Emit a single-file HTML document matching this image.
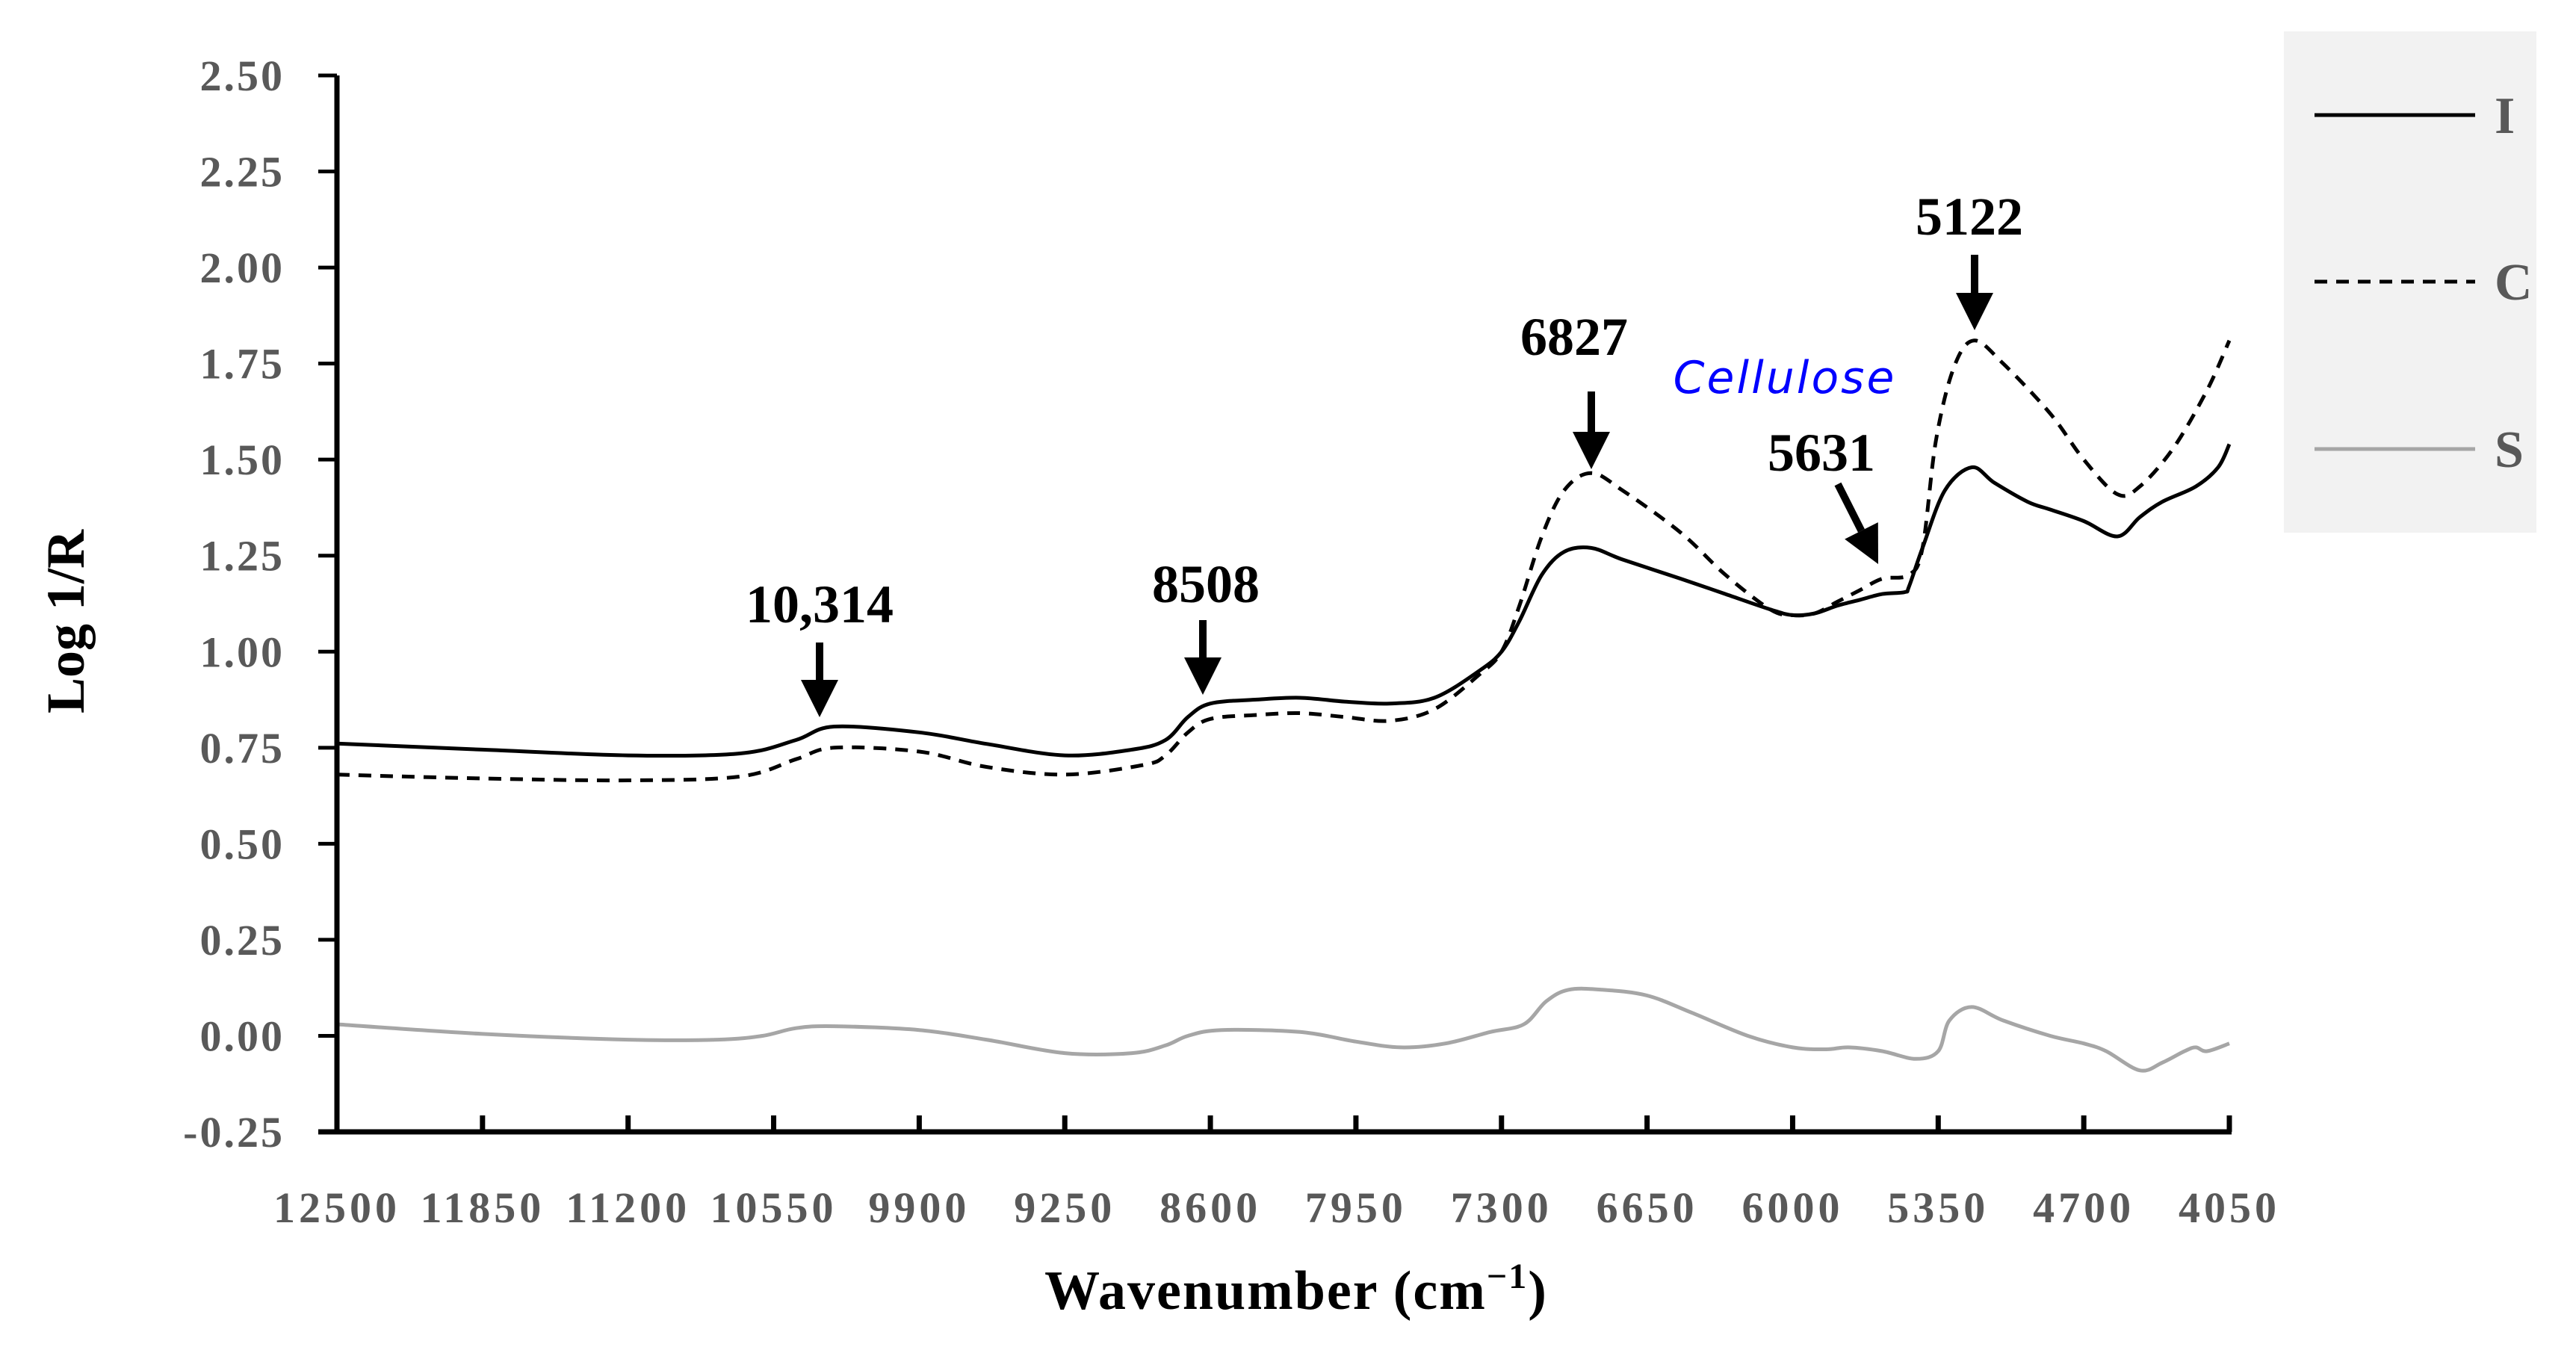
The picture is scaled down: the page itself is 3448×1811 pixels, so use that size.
<!DOCTYPE html>
<html><head><meta charset="utf-8"><style>
html,body{margin:0;padding:0;background:#fff;}
svg{display:block;}
</style></head><body>
<svg id="chart" width="3448" height="1811" viewBox="0 0 3448 1811" xmlns="http://www.w3.org/2000/svg">
<g id="plot"></g>
</svg>
<script>
const xTicks = [12500,11850,11200,10550,9900,9250,8600,7950,7300,6650,6000,5350,4700,4050];
const yTicks = [-0.25,0,0.25,0.5,0.75,1.0,1.25,1.5,1.75,2.0,2.25,2.5];
const wnI = [12500,11850,11200,10700,10450,10280,9900,9600,9250,8950,8800,8700,8600,8400,8200,8000,7800,7600,7400,7300,7220,7120,7020,6900,6760,6500,6300,6100,6000,5900,5800,5700,5600,5500,5480,5420,5320,5200,5100,4950,4850,4700,4550,4450,4350,4200,4100,4050];
const valI = [0.761,0.745,0.73,0.735,0.77,0.805,0.79,0.76,0.73,0.745,0.77,0.83,0.865,0.875,0.88,0.87,0.865,0.88,0.95,1.0,1.08,1.2,1.26,1.27,1.24,1.19,1.15,1.11,1.095,1.1,1.12,1.135,1.15,1.155,1.17,1.27,1.42,1.48,1.44,1.39,1.37,1.34,1.30,1.35,1.39,1.43,1.48,1.54];
const wnC = [12500,11850,11200,10700,10450,10280,9900,9600,9250,8900,8800,8700,8600,8400,8200,8000,7800,7600,7400,7300,7220,7120,7020,6900,6760,6500,6300,6100,6000,5900,5800,5700,5600,5480,5420,5360,5280,5190,5060,4850,4700,4550,4450,4300,4150,4050];
const valC = [0.68,0.67,0.665,0.675,0.72,0.75,0.74,0.70,0.68,0.705,0.73,0.79,0.825,0.835,0.84,0.83,0.82,0.85,0.94,1.0,1.12,1.3,1.42,1.465,1.42,1.31,1.2,1.11,1.095,1.1,1.13,1.16,1.19,1.2,1.27,1.55,1.74,1.81,1.75,1.62,1.5,1.41,1.43,1.53,1.68,1.81];
const wnS = [12500,11850,11200,10800,10600,10450,10280,9900,9600,9250,8950,8800,8700,8550,8200,7950,7750,7550,7350,7200,7100,7000,6850,6650,6450,6200,6000,5850,5750,5600,5450,5350,5300,5200,5060,4850,4700,4600,4450,4350,4250,4200,4150,4050];
const valS = [0.03,0.005,-0.01,-0.01,0.0,0.02,0.025,0.015,-0.01,-0.045,-0.045,-0.025,0.0,0.015,0.01,-0.015,-0.03,-0.02,0.01,0.03,0.09,0.12,0.12,0.105,0.06,0.0,-0.03,-0.035,-0.03,-0.04,-0.06,-0.04,0.04,0.075,0.04,0.0,-0.02,-0.04,-0.09,-0.07,-0.04,-0.03,-0.04,-0.02];
const peakLabels = ["10,314","8508","6827","5631","5122"];
const peakWn = [10314,8508,6827,5631,5122];

const NS="http://www.w3.org/2000/svg";
const X0=451,X1=2984,Y0=1515,Y1=101;
const xs=w=>X0+(12500-w)/(12500-4050)*(X1-X0);
const ys=v=>Y0-(v+0.25)/2.75*(Y0-Y1);
const g=document.getElementById('plot');
function mk(tag,attrs,parent){const e=document.createElementNS(NS,tag);for(const k in attrs)e.setAttribute(k,attrs[k]);(parent||g).appendChild(e);return e;}
function smooth(pts){let d='M'+pts[0][0].toFixed(1)+','+pts[0][1].toFixed(1);
for(let i=0;i<pts.length-1;i++){const p0=pts[i-1]||pts[i],p1=pts[i],p2=pts[i+1],p3=pts[i+2]||p2;
const c1=[p1[0]+(p2[0]-p0[0])/6,p1[1]+(p2[1]-p0[1])/6],c2=[p2[0]-(p3[0]-p1[0])/6,p2[1]-(p3[1]-p1[1])/6];
d+=' C'+c1[0].toFixed(1)+','+c1[1].toFixed(1)+' '+c2[0].toFixed(1)+','+c2[1].toFixed(1)+' '+p2[0].toFixed(1)+','+p2[1].toFixed(1);}
return d;}
const FONT='"Liberation Serif", serif';
let p;
p=mk('path',{d:smooth(wnS.map((w,i)=>[xs(w),ys(valS[i])])),fill:'none',stroke:'#a6a6a6','stroke-width':5});


p=mk('path',{d:smooth(wnC.map((w,i)=>[xs(w),ys(valC[i])])),fill:'none',stroke:'#000','stroke-width':5,'stroke-dasharray':'17 12'});


p=mk('path',{d:smooth(wnI.map((w,i)=>[xs(w),ys(valI[i])])),fill:'none',stroke:'#000','stroke-width':5});


let a=mk('line',{x1:X0,y1:Y1,x2:X0,y2:Y0+3,stroke:'#000','stroke-width':7});


a=mk('line',{x1:X0-25,y1:Y0,x2:X1+3,y2:Y0,stroke:'#000','stroke-width':7});


yTicks.forEach(v=>{
  const t=mk('line',{x1:X0-25,y1:ys(v),x2:X0,y2:ys(v),stroke:'#000','stroke-width':5});
  
  
  const l=mk('text',{x:381,y:ys(v)+20,'text-anchor':'end','font-family':FONT,'font-weight':'bold','font-size':58,fill:'#595959','letter-spacing':3});
  l.textContent=v.toFixed(2);
  
  
});
xTicks.forEach(w=>{
  const t=mk('line',{x1:xs(w),y1:Y0-22,x2:xs(w),y2:Y0,stroke:'#000','stroke-width':7});
  
  
  const l=mk('text',{x:xs(w),y:1636,'text-anchor':'middle','font-family':FONT,'font-weight':'bold','font-size':58,fill:'#595959','letter-spacing':5});
  l.textContent=w;
  
  
});
let tt=mk('text',{x:0,y:0,transform:'translate(112,832) rotate(-90)','text-anchor':'middle','font-family':FONT,'font-weight':'bold','font-size':72,fill:'#000'});
tt.textContent='Log 1/R';


tt=mk('text',{x:1735,y:1752,'text-anchor':'middle','font-family':FONT,'font-weight':'bold','font-size':74,fill:'#000','letter-spacing':2});
tt.innerHTML='Wavenumber (cm<tspan font-size="48" dy="-28">−1</tspan><tspan dy="28">)</tspan>';


const labPos=[[1097,833],[1614,806],[2107,475],[2438,630],[2636,314]];
peakLabels.forEach((s,i)=>{
  const l=mk('text',{x:labPos[i][0],y:labPos[i][1],'text-anchor':'middle','font-family':FONT,'font-weight':'bold','font-size':72,fill:'#000'});
  l.textContent=s;
  
  
});
function arrow(x1,y1,x2,y2,name){
  const gg=mk('g',{});
  
  
  const ang=Math.atan2(y2-y1,x2-x1),L=50,W=25;
  const bx=x2-L*Math.cos(ang),by=y2-L*Math.sin(ang);
  mk('line',{x1:x1,y1:y1,x2:bx,y2:by,stroke:'#000','stroke-width':10},gg);
  const px=-Math.sin(ang)*W,py=Math.cos(ang)*W;
  mk('polygon',{points:`${x2},${y2} ${bx+px},${by+py} ${bx-px},${by-py}`,fill:'#000'},gg);
}
arrow(1097,860,1097,960,'arrow-10314');
arrow(1610,830,1610,930,'arrow-8508');
arrow(2130,524,2130,628,'arrow-6827');
arrow(2460,648,2514,755,'arrow-5631');
arrow(2643,341,2643,442,'arrow-5122');
tt=mk('text',{x:2389,y:526,'text-anchor':'middle','font-family':'"DejaVu Sans", sans-serif','font-style':'italic','font-size':60,fill:'#0000ff','letter-spacing':3});
tt.textContent='Cellulose';


const lg=mk('g',{});


mk('rect',{x:3057,y:42,width:338,height:671,fill:'#f2f2f2'},lg);
const legNames=['I','C','S'],legY=[154,377,601];
legNames.forEach((n,i)=>{
  const e=mk('g',{},lg);
  
  
  const at={x1:3098,y1:legY[i],x2:3313,y2:legY[i],'stroke-width':5,stroke:i==2?'#a6a6a6':'#000'};
  if(i==1)at['stroke-dasharray']='17 12';
  mk('line',at,e);
  const t=mk('text',{x:3339,y:legY[i]+24,'font-family':FONT,'font-weight':'bold','font-size':70,fill:'#595959'},e);
  t.textContent=n;
});
</script>
</body></html>
